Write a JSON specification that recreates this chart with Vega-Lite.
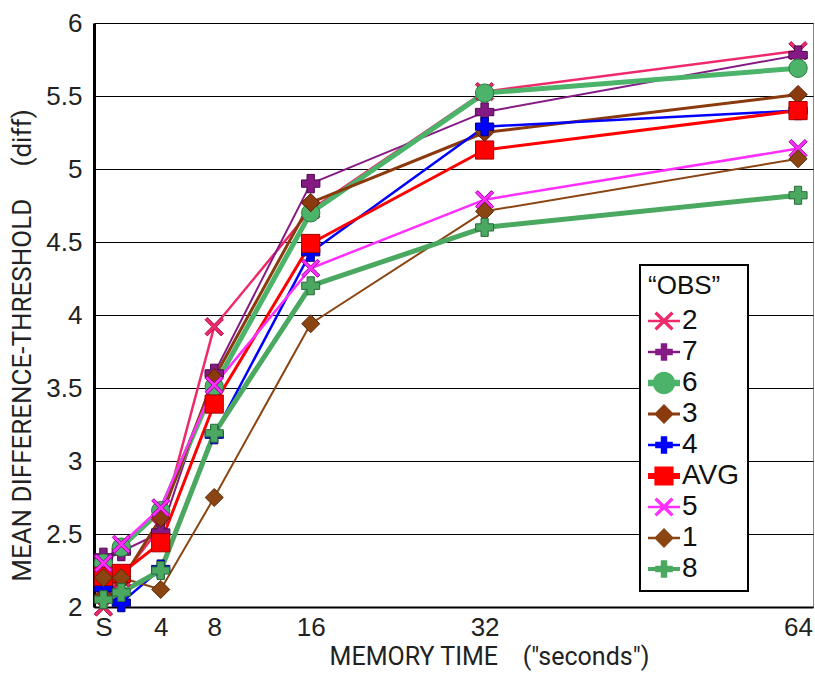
{
  "$schema": "https://vega.github.io/schema/vega-lite/v6.json",
  "width": 719,
  "height": 584,
  "autosize": {"type": "none"},
  "padding": {"left": 94, "top": 23, "right": 2, "bottom": 68},
  "background": "white",
  "data": {"values": [
    {"obs": "2", "t": 0.4, "v": 2.0}, {"obs": "2", "t": 1.4, "v": 2.2}, {"obs": "2", "t": 4, "v": 2.55}, {"obs": "2", "t": 8, "v": 3.92}, {"obs": "2", "t": 16, "v": 4.72}, {"obs": "2", "t": 32, "v": 5.53}, {"obs": "2", "t": 64, "v": 5.81},
    {"obs": "7", "t": 0.4, "v": 2.34}, {"obs": "7", "t": 1.4, "v": 2.38}, {"obs": "7", "t": 4, "v": 2.51}, {"obs": "7", "t": 8, "v": 3.6}, {"obs": "7", "t": 16, "v": 4.9}, {"obs": "7", "t": 32, "v": 5.39}, {"obs": "7", "t": 64, "v": 5.78},
    {"obs": "6", "t": 0.4, "v": 2.3}, {"obs": "6", "t": 1.4, "v": 2.41}, {"obs": "6", "t": 4, "v": 2.66}, {"obs": "6", "t": 8, "v": 3.51}, {"obs": "6", "t": 16, "v": 4.7}, {"obs": "6", "t": 32, "v": 5.52}, {"obs": "6", "t": 64, "v": 5.69},
    {"obs": "3", "t": 0.4, "v": 2.08}, {"obs": "3", "t": 1.4, "v": 2.18}, {"obs": "3", "t": 4, "v": 2.61}, {"obs": "3", "t": 8, "v": 3.57}, {"obs": "3", "t": 16, "v": 4.77}, {"obs": "3", "t": 32, "v": 5.25}, {"obs": "3", "t": 64, "v": 5.51},
    {"obs": "4", "t": 0.4, "v": 2.13}, {"obs": "4", "t": 1.4, "v": 2.03}, {"obs": "4", "t": 4, "v": 2.26}, {"obs": "4", "t": 8, "v": 3.18}, {"obs": "4", "t": 16, "v": 4.43}, {"obs": "4", "t": 32, "v": 5.29}, {"obs": "4", "t": 64, "v": 5.4},
    {"obs": "AVG", "t": 0.4, "v": 2.21}, {"obs": "AVG", "t": 1.4, "v": 2.23}, {"obs": "AVG", "t": 4, "v": 2.44}, {"obs": "AVG", "t": 8, "v": 3.39}, {"obs": "AVG", "t": 16, "v": 4.49}, {"obs": "AVG", "t": 32, "v": 5.13}, {"obs": "AVG", "t": 64, "v": 5.4},
    {"obs": "5", "t": 0.4, "v": 2.3}, {"obs": "5", "t": 1.4, "v": 2.43}, {"obs": "5", "t": 4, "v": 2.68}, {"obs": "5", "t": 8, "v": 3.52}, {"obs": "5", "t": 16, "v": 4.32}, {"obs": "5", "t": 32, "v": 4.79}, {"obs": "5", "t": 64, "v": 5.14},
    {"obs": "1", "t": 0.4, "v": 2.2}, {"obs": "1", "t": 1.4, "v": 2.2}, {"obs": "1", "t": 4, "v": 2.12}, {"obs": "1", "t": 8, "v": 2.75}, {"obs": "1", "t": 16, "v": 3.94}, {"obs": "1", "t": 32, "v": 4.71}, {"obs": "1", "t": 64, "v": 5.07},
    {"obs": "8", "t": 0.4, "v": 2.05}, {"obs": "8", "t": 1.4, "v": 2.1}, {"obs": "8", "t": 4, "v": 2.25}, {"obs": "8", "t": 8, "v": 3.19}, {"obs": "8", "t": 16, "v": 4.2}, {"obs": "8", "t": 32, "v": 4.6}, {"obs": "8", "t": 64, "v": 4.82}
  ]},
  "encoding": {
    "x": {
      "field": "t", "type": "quantitative",
      "scale": {"type": "pow", "exponent": 0.85, "domain": [0, 65.6], "nice": false, "zero": false},
      "axis": {
        "values": [0.4, 4, 8, 16, 32, 64],
        "labelExpr": "datum.value < 1 ? 'S' : datum.label",
        "title": "MEMORY TIME\u00a0\u00a0\u00a0\u00a0(\"seconds\")",
        "titleX": 395, "titleAnchor": "middle",
        "grid": false, "ticks": false,
        "domainColor": "black", "domainWidth": 2,
        "labelFont": "Liberation Sans", "labelFontSize": 26, "labelColor": "#222", "labelPadding": 7,
        "labelFlush": false, "labelOverlap": false,
        "titleFont": "Roboto", "titleFontSize": 25, "titleFontWeight": "normal", "titleColor": "#222", "titlePadding": 4
      }
    },
    "y": {
      "field": "v", "type": "quantitative",
      "scale": {"domain": [2, 6], "nice": false, "zero": false},
      "axis": {
        "values": [2, 2.5, 3, 3.5, 4, 4.5, 5, 5.5, 6],
        "format": "~g",
        "title": "MEAN DIFFERENCE-THRESHOLD\u00a0\u00a0\u00a0\u00a0\u00a0(diff)",
        "titleY": 322,
        "grid": true, "gridColor": "black", "gridWidth": 1, "gridOpacity": 1,
        "ticks": false, "domainColor": "black", "domainWidth": 3,
        "labelFont": "Liberation Sans", "labelFontSize": 26, "labelColor": "#222", "labelPadding": 12,
        "labelFlush": false, "labelOverlap": false,
        "titleFont": "Roboto", "titleFontSize": 26, "titleFontWeight": "normal", "titleColor": "#222", "titlePadding": 10
      }
    }
  },
  "layer": [
    {
      "mark": {"type": "line", "strokeCap": "round", "strokeJoin": "round"},
      "encoding": {
        "color": {"field": "obs", "type": "nominal", "legend": null},
        "strokeWidth": {
          "condition": [
            {"test": "datum.obs == '6' || datum.obs == '8'", "value": 5},
            {"test": "datum.obs == '3' || datum.obs == 'AVG'", "value": 3},
            {"test": "datum.obs == '1' || datum.obs == '7'", "value": 2}
          ],
          "value": 2.5
        },
        "order": {"field": "t"}
      }
    },
    {
      "mark": {"type": "point", "filled": true, "opacity": 1, "strokeWidth": 1},
      "encoding": {
        "color": {"field": "obs", "type": "nominal", "legend": null},
        "shape": {"field": "obs", "type": "nominal", "legend": null,
          "scale": {"domain": ["2", "7", "6", "3", "4", "AVG", "5", "1", "8"],
            "range": [
              "M-1,-0.75L-0.75,-1L0,-0.25L0.75,-1L1,-0.75L0.25,0L1,0.75L0.75,1L0,0.25L-0.75,1L-1,0.75L-0.25,0Z",
              "cross", "circle", "diamond", "cross", "square",
              "M-1,-0.75L-0.75,-1L0,-0.25L0.75,-1L1,-0.75L0.25,0L1,0.75L0.75,1L0,0.25L-0.75,1L-1,0.75L-0.25,0Z",
              "diamond", "cross"]}},
        "size": {"field": "obs", "type": "nominal", "legend": null,
          "scale": {"domain": ["2", "7", "6", "3", "4", "AVG", "5", "1", "8"], "range": [340, 324, 400, 360, 324, 420, 340, 360, 324]}},
        "stroke": {"field": "obs", "type": "nominal", "legend": null,
          "scale": {"domain": ["2", "7", "6", "3", "4", "AVG", "5", "1", "8"],
            "range": ["#b0104a", "#4a0a4a", "#2a7a40", "#5a2000", "#00007a", "#a00000", "#a000a0", "#5a2a08", "#2a6a38"]}}
      }
    },
    {
      "mark": {"type": "point", "filled": true, "opacity": 0, "size": 1024},
      "encoding": {
        "color": {"field": "obs", "type": "nominal",
          "scale": {"domain": ["2", "7", "6", "3", "4", "AVG", "5", "1", "8"],
            "range": ["#ee2a6b", "#851a85", "#4cb46a", "#8a3a0c", "#0000ff", "#ff0000", "#ff30ff", "#8b4513", "#4aa860"]},
          "legend": {"title": "“OBS”"}},
        "shape": {"field": "obs", "type": "nominal",
          "scale": {"domain": ["2", "7", "6", "3", "4", "AVG", "5", "1", "8"],
            "range": [
              "M-1,-0.08H1V0.08H-1Z M-0.6,-0.45L-0.45,-0.6L0,-0.15L0.45,-0.6L0.6,-0.45L0.15,0L0.6,0.45L0.45,0.6L0,0.15L-0.45,0.6L-0.6,0.45L-0.15,0Z",
              "M-1,-0.08H1V0.08H-1Z M-0.2,-0.55H0.2V-0.2H0.55V0.2H0.2V0.55H-0.2V0.2H-0.55V-0.2H-0.2Z",
              "M-1,-0.2H1V0.2H-1Z M-0.7,0A0.7,0.7,0,1,1,0.7,0A0.7,0.7,0,1,1,-0.7,0Z",
              "M-1,-0.1H1V0.1H-1Z M0,-0.62L0.62,0L0,0.62L-0.62,0Z",
              "M-1,-0.08H1V0.08H-1Z M-0.2,-0.55H0.2V-0.2H0.55V0.2H0.2V0.55H-0.2V0.2H-0.55V-0.2H-0.2Z",
              "M-1,-0.18H1V0.18H-1Z M-0.6,-0.6H0.6V0.6H-0.6Z",
              "M-1,-0.08H1V0.08H-1Z M-0.6,-0.45L-0.45,-0.6L0,-0.15L0.45,-0.6L0.6,-0.45L0.15,0L0.6,0.45L0.45,0.6L0,0.15L-0.45,0.6L-0.6,0.45L-0.15,0Z",
              "M-1,-0.08H1V0.08H-1Z M0,-0.62L0.62,0L0,0.62L-0.62,0Z",
              "M-1,-0.12H1V0.12H-1Z M-0.2,-0.55H0.2V-0.2H0.55V0.2H0.2V0.55H-0.2V0.2H-0.55V-0.2H-0.2Z"]},
          "legend": {"title": "“OBS”"}}
      }
    }
  ],
  "resolve": {"scale": {"shape": "independent", "size": "independent"}, "legend": {"color": "independent", "shape": "independent"}},
  "config": {
    "view": {"stroke": "#888", "strokeWidth": 1},
    "legend": {
      "orient": "none", "legendX": 546, "legendY": 242,
      "strokeColor": "black", "strokeWidth": 2, "fillColor": "white",
      "padding": 8, "symbolSize": 1024, "symbolStrokeWidth": 0, "symbolOpacity": 1,
      "titleFont": "Liberation Sans", "titleFontSize": 26, "titleFontWeight": "normal", "titleColor": "#111", "titlePadding": 6,
      "labelFont": "Liberation Sans", "labelFontSize": 28, "labelColor": "#111", "labelOffset": 2,
      "rowPadding": 1
    }
  }
}
